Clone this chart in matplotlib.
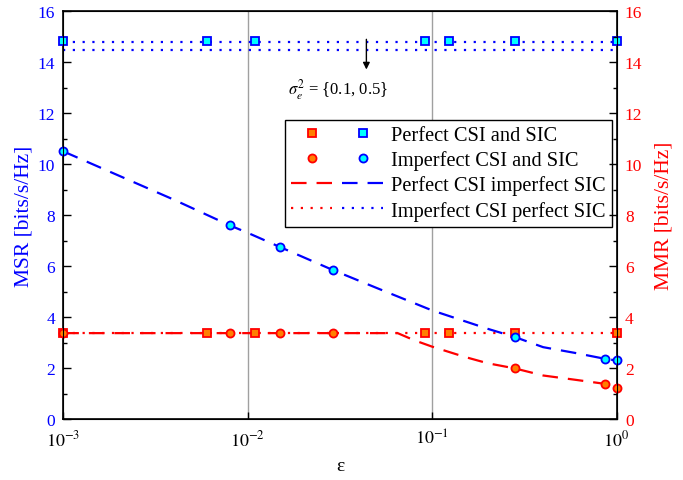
import numpy as np
import matplotlib
matplotlib.use('Agg')
import matplotlib.pyplot as plt
from matplotlib.lines import Line2D
from matplotlib.legend_handler import HandlerTuple

plt.rcParams['font.family'] = ['Liberation Serif', 'DejaVu Serif']
plt.rcParams['mathtext.fontset'] = 'stix'

# --- data ---
eps_sq = [0.001, 0.006, 0.011, 0.091, 0.123, 0.28, 1.0]
msr_sq = [14.83, 14.83, 14.83, 14.83, 14.83, 14.83, 14.83]
mmr_sq = [3.38, 3.38, 3.38, 3.38, 3.38, 3.38, 3.38]

eps_ci = [0.001, 0.008, 0.015, 0.029, 0.28, 0.87, 1.0]
msr_ci = [10.5, 7.6, 6.75, 5.85, 3.23, 2.37, 2.31]
mmr_ci = [3.38, 3.38, 3.38, 3.38, 2.0, 1.39, 1.24]

eps_msr_dash = [0.001, 0.002, 0.004, 0.008, 0.01, 0.015, 0.029, 0.05, 0.1, 0.2, 0.28, 0.4, 0.6, 0.87, 1.0]
msr_dash = [10.5, 9.55, 8.6, 7.6, 7.31, 6.75, 5.85, 5.15, 4.27, 3.55, 3.23, 2.83, 2.6, 2.37, 2.31]

eps_mmr_dash = [0.001, 0.065, 0.08, 0.1, 0.15, 0.2, 0.28, 0.4, 0.6, 0.87, 1.0]
mmr_dash = [3.38, 3.38, 3.1, 2.85, 2.45, 2.2, 2.0, 1.72, 1.55, 1.39, 1.24]

eps_flat = [0.001, 1.0]
msr_dot_01 = [14.79, 14.79]
msr_dot_05 = [14.46, 14.46]
mmr_dot = [3.38, 3.38]

red = '#FF0000'
blue = '#0000FF'
orange = '#FF7F00'
cyan = '#00FFFF'

fig = plt.figure(figsize=(6.83, 4.81), dpi=100)
ax = fig.add_axes([0.0927, 0.126, 0.810, 0.849])

for xv in [0.01, 0.1]:
    ax.axvline(xv, color='#A0A0A0', lw=1, zorder=0)

dash = (0, (7, 4.5))
dot = (0, (1, 3.4))
lw = 1.6

ax.plot(eps_flat, msr_dot_01, color=blue, ls=dot, lw=lw)
ax.plot(eps_flat, msr_dot_05, color=blue, ls=dot, lw=lw)
ax.plot(eps_flat, mmr_dot, color=red, ls=dot, lw=lw)
ax.plot(eps_msr_dash, msr_dash, color=blue, ls=dash, lw=lw)
ax.plot(eps_mmr_dash, mmr_dash, color=red, ls=dash, lw=lw)

ms = 5.8
mew = 1.3
ax.plot(eps_sq, mmr_sq, ls='none', marker='s', ms=ms, mfc=orange, mec=red, mew=mew, clip_on=False, zorder=5)
ax.plot(eps_sq, msr_sq, ls='none', marker='s', ms=ms, mfc=cyan, mec=blue, mew=mew, clip_on=False, zorder=5)
ax.plot(eps_ci, mmr_ci, ls='none', marker='o', ms=ms, mfc=orange, mec=red, mew=mew, clip_on=False, zorder=5)
ax.plot(eps_ci, msr_ci, ls='none', marker='o', ms=ms, mfc=cyan, mec=blue, mew=mew, clip_on=False, zorder=5)

ax.set_xscale('log')
ax.set_xlim(1e-3, 1)
ax.set_ylim(0, 16)
ax.set_xticks([1e-3, 1e-2, 1e-1, 1])
ax.set_xticklabels([r'$10^{-3}$', r'$10^{-2}$', r'$10^{-1}$', r'$10^{0}$'])
ax.xaxis.set_minor_locator(matplotlib.ticker.NullLocator())
ax.set_yticks(np.arange(0, 17, 2))
ax.set_yticks(np.arange(1, 16, 2), minor=True)
ax.tick_params(axis='x', direction='in', length=5, width=1, labelsize=13, pad=7, top=False)
ax.tick_params(axis='y', which='major', direction='in', length=6, width=1, labelsize=12.5,
               labelcolor=blue, pad=6)
ax.tick_params(axis='y', which='minor', direction='in', length=3, width=1)
ax.set_xlabel('ε', fontsize=14, labelpad=6)
ax.set_ylabel('MSR [bits/s/Hz]', fontsize=15.5, color=blue, labelpad=3)
for s in ax.spines.values():
    s.set_linewidth(1.2)

ax2 = ax.twinx()
ax2.set_ylim(0, 16)
ax2.set_yticks(np.arange(0, 17, 2))
ax2.set_yticks(np.arange(1, 16, 2), minor=True)
ax2.tick_params(axis='y', which='major', direction='in', length=6, width=1, labelsize=12.5,
                labelcolor=red, pad=6)
ax2.tick_params(axis='y', which='minor', direction='in', length=3, width=1)
ax2.set_ylabel('MMR [bits/s/Hz]', fontsize=15.5, color=red, labelpad=9)

ax.annotate('', xy=(0.044, 13.6), xytext=(0.044, 15.0),
            arrowprops=dict(arrowstyle='-|>', color='black', lw=1, mutation_scale=10))
ax.text(0.0165, 12.95, r'$\sigma_e^2$ = {0.1, 0.5}', fontsize=12, va='center', ha='left')

h_sq = (Line2D([], [], ls='none', marker='s', ms=ms, mfc=orange, mec=red, mew=mew),
        Line2D([], [], ls='none', marker='s', ms=ms, mfc=cyan, mec=blue, mew=mew))
h_ci = (Line2D([], [], ls='none', marker='o', ms=ms, mfc=orange, mec=red, mew=mew),
        Line2D([], [], ls='none', marker='o', ms=ms, mfc=cyan, mec=blue, mew=mew))
h_da = (Line2D([], [], color=red, ls=dash, lw=lw), Line2D([], [], color=blue, ls=dash, lw=lw))
h_do = (Line2D([], [], color=red, ls=dot, lw=lw), Line2D([], [], color=blue, ls=dot, lw=lw))

leg = ax.legend([h_sq, h_ci, h_da, h_do],
                ['Perfect CSI and SIC', 'Imperfect CSI and SIC',
                 'Perfect CSI imperfect SIC', 'Imperfect CSI perfect SIC'],
                handler_map={tuple: HandlerTuple(ndivide=None, pad=0.5)},
                loc='upper right', bbox_to_anchor=(0.992, 0.733), borderaxespad=0,
                fontsize=14.7, handlelength=4.5, handletextpad=0.4, labelspacing=0.25,
                fancybox=False, edgecolor='black', framealpha=1, borderpad=0.3)
leg.get_frame().set_linewidth(1)

fig.savefig('out.png', dpi=100)
